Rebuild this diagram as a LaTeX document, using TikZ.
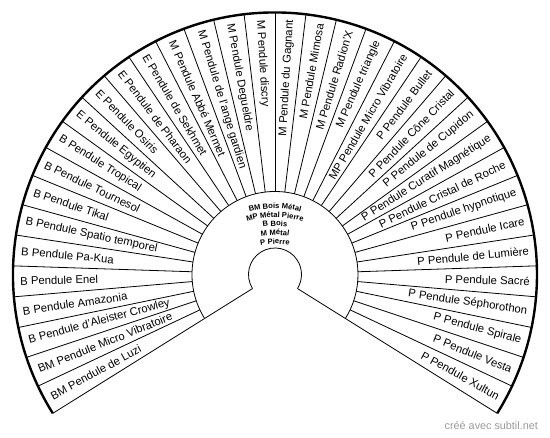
\documentclass[tikz,border=0pt]{standalone}
\usepackage{fontspec}
\setmainfont{Liberation Sans}
\usetikzlibrary{decorations.text}
\tikzset{
  rim/.style = {line width=2.4pt},
  spoke/.style = {line width=0.8pt},
  plabel/.style = {inner sep=0pt, font=\fontsize{11.3}{13}\selectfont},
  credit/.style = {inner sep=0pt, text=black!40, font=\fontsize{10.8}{12}\selectfont}
}
\newcommand{\ctrfont}{\fontsize{7.6}{9}\selectfont\bfseries}

\begin{document}
\begin{tikzpicture}[x=1pt, y=1pt]
  \useasboundingbox (-275,-163.5) rectangle (275,274.5);
  \def\w{6.77778}% 244/36
  \def\ctrline#1#2{%
    \path[decorate, decoration={text along path, text align=center, text={|\ctrfont|#1}}]
      (0,-40) ++(125:#2) arc[start angle=125, end angle=55, radius=#2pt];
  }

  % fan outline
  \draw[rim] (212:262) arc[start angle=212, end angle=-32, radius=262pt];
  \draw[spoke] (212:83) arc[start angle=212, end angle=-32, radius=83pt];
  \draw[spoke] (212:26.5) arc[start angle=212, end angle=-32, radius=26.5pt];
  \draw[spoke] (212:26.5) -- (212:262);
  \draw[spoke] (-32:26.5) -- (-32:262);
  \foreach \k in {1,...,35}{
    \draw[spoke] ({212-\k*\w}:83) -- ({212-\k*\w}:262);
  }

  % sector labels
  \foreach \pname [count=\i] in {
    BM Pendule de Luzi, BM Pendule Micro Vibratoire, B Pendule d'Aleister Crowley,
    B Pendule Amazonia, B Pendule Enel, B Pendule Pa-Kua, B Pendule Spatio temporel,
    B Pendule Tikal, B Pendule Tournesol, B Pendule Tropical, E Pendule Egyptien,
    E Pendule Osiris, E Pendule de Pharaon, E Pendule de Sekhmet, M Pendule Abbé Mermet,
    M Pendule de l'ange gardien, M Pendule Degueldre, M Pendule discry,
    M Pendule du Gagnant, M Pendule Mimosa, M Pendule Radion'X, M Pendule triangle,
    MP Pendule Micro Vibratoire, P Pendule Bullet, P Pendule Cône Cristal,
    P Pendule de Cupidon, P Pendule Curatif Magnétique, P Pendule Cristal de Roche,
    P Pendule hypnotique, P Pendule Icare, P Pendule de Lumière, P Pendule Sacré,
    P Pendule Séphorothon, P Pendule Spirale, P Pendule Vesta, P Pendule Xultun
  }{
    \pgfmathsetmacro\ang{212-(\i-0.5)*\w}
    \ifdim\ang pt>90pt
      \node[plabel, anchor=west, rotate=\ang-180] (l\i) at (\ang:255) {\pname};
    \else
      \node[plabel, anchor=east, rotate=\ang] (l\i) at (\ang:255) {\pname};
    \fi
  }

  % legend in the hub
  \ctrline{BM Bois Métal}{106}
  \ctrline{MP Métal Pierre}{97}
  \ctrline{B Bois}{88.5}
  \ctrline{M Métal}{79.5}
  \ctrline{P Pierre}{70.5}

  \node[credit, anchor=base east] (credit) at (263,-155) {créé avec subtil.net};
\end{tikzpicture}
\end{document}
